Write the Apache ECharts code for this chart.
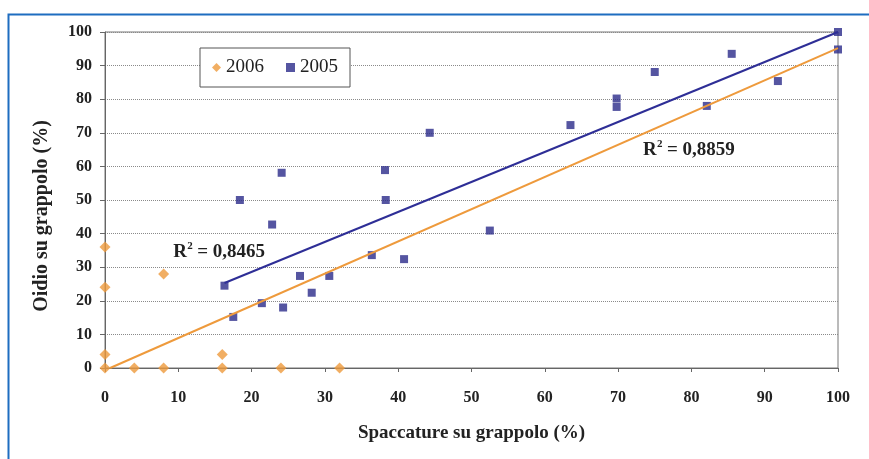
<!DOCTYPE html>
<html>
<head>
<meta charset="utf-8">
<script src="https://cdn.jsdelivr.net/npm/echarts@6/dist/echarts.min.js"></script>
<style>html,body{margin:0;padding:0;background:#fff;}#c{width:869px;height:459px;}</style>
</head>
<body>
<div id="c"></div>
<script>
// 2006 series (orange diamonds)
const x2006 = [0, 0, 0, 0, 4, 8, 8, 16, 16, 24, 32];
const y2006 = [0, 4, 24, 36, 0, 0, 28, 0, 4, 0, 0];
// 2005 series (blue squares)
const x2005 = [16.3, 17.5, 18.4, 21.4, 22.8, 24.1, 24.3, 26.6, 28.2, 30.6, 36.4, 38.2, 38.3, 40.8, 44.3, 52.5, 63.5, 69.8, 69.8, 75.0, 82.1, 85.5, 91.8, 100, 100];
const y2005 = [24.5, 15.2, 50.0, 19.3, 42.7, 58.1, 18.0, 27.4, 22.4, 27.4, 33.6, 58.9, 50.0, 32.4, 70.0, 40.9, 72.3, 80.2, 77.7, 88.1, 78.0, 93.5, 85.4, 100, 94.8];
// linear trend lines (end points)
const trend2006X = [0.7, 100];
const trend2006Y = [0, 95.2];
const trend2005X = [16.3, 100];
const trend2005Y = [25.3, 100];
// R² annotations: text and anchor (data coords, left/middle)
const r2Values = ['0,8465', '0,8859'];
const r2AnchorX = [9.3, 73.4];
const r2AnchorY = [34.5, 64.9];
// axis ticks
const xTicks = [0, 10, 20, 30, 40, 50, 60, 70, 80, 90, 100];
const yTicks = [0, 10, 20, 30, 40, 50, 60, 70, 80, 90, 100];

const zip = (a, b) => a.map((v, i) => [v, b[i]]);
const SERIF = "'Liberation Serif','Times New Roman',serif";
const ORANGE = '#EE9A3C';
const BLUE = '#2B2A8A';

const chart = echarts.init(document.getElementById('c'), null, {renderer: 'canvas'});
chart.setOption({
  animation: false,
  backgroundColor: '#fff',
  grid: {left: 105, right: 31, top: 32, bottom: 91, show: true, borderColor: '#777', borderWidth: 1, backgroundColor: 'transparent'},
  legend: {
    left: 200, top: 48,
    padding: [10, 12],
    borderColor: '#555', borderWidth: 1, backgroundColor: '#fff',
    itemWidth: 9, itemHeight: 9, itemGap: 22,
    data: [{name: '2006', icon: 'diamond'}, {name: '2005', icon: 'rect'}],
    textStyle: {fontFamily: SERIF, fontSize: 19, color: '#222'}
  },
  xAxis: {
    type: 'value', min: xTicks[0], max: xTicks[xTicks.length - 1], interval: 10,
    name: 'Spaccature su grappolo (%)', nameLocation: 'middle', nameGap: 56,
    nameTextStyle: {fontFamily: SERIF, fontWeight: 'bold', fontSize: 19, color: '#222'},
    axisLine: {show: true, lineStyle: {color: '#666', width: 1}},
    axisTick: {show: true, length: 4, lineStyle: {color: '#666'}},
    axisLabel: {fontFamily: SERIF, fontWeight: 'bold', fontSize: 16, color: '#222', margin: 22},
    splitLine: {show: false}
  },
  yAxis: {
    type: 'value', min: yTicks[0], max: yTicks[yTicks.length - 1], interval: 10,
    axisLine: {show: true, lineStyle: {color: '#666', width: 1}},
    axisTick: {show: true, length: 5, lineStyle: {color: '#666'}},
    axisLabel: {fontFamily: SERIF, fontWeight: 'bold', fontSize: 16, color: '#222', margin: 13},
    splitLine: {show: true, lineStyle: {type: 'dotted', color: '#8a8a8a', width: 1}}
  },
  series: [
    {name: '2006', type: 'scatter', symbol: 'diamond', symbolSize: 11, itemStyle: {color: ORANGE}, data: zip(x2006, y2006), z: 2},
    {name: '2005', type: 'scatter', symbol: 'rect', symbolSize: 8, itemStyle: {color: BLUE}, data: zip(x2005, y2005), z: 3},
    {name: 'trend2006', type: 'line', showSymbol: false, symbol: 'none', lineStyle: {color: ORANGE, width: 2}, data: zip(trend2006X, trend2006Y), z: 4, silent: true},
    {name: 'trend2005', type: 'line', showSymbol: false, symbol: 'none', lineStyle: {color: '#2E2E96', width: 2}, data: zip(trend2005X, trend2005Y), z: 4, silent: true}
  ]
});

const graphics = [
  {type: 'rect', left: 6, top: 12, shape: {width: 900, height: 500}, style: {fill: 'none', stroke: '#1E6DC0', lineWidth: 2}, z: 0, silent: true},
  {type: 'text', x: 42, y: 216, rotation: Math.PI / 2, style: {text: 'Oidio su grappolo (%)', font: 'bold 20px ' + SERIF, fill: '#222', textAlign: 'center', textVerticalAlign: 'middle'}}
];
r2Values.forEach((v, i) => {
  const p = chart.convertToPixel({gridIndex: 0}, [r2AnchorX[i], r2AnchorY[i]]);
  graphics.push({
    type: 'group', x: p[0], y: p[1], z: 10,
    children: [
      {type: 'text', x: 0, y: 0, style: {text: 'R', font: 'bold 19px ' + SERIF, fill: '#222', textAlign: 'left', textVerticalAlign: 'middle'}},
      {type: 'text', x: 14, y: -6, style: {text: '2', font: 'bold 11px ' + SERIF, fill: '#222', textAlign: 'left', textVerticalAlign: 'middle'}},
      {type: 'text', x: 24, y: 0, style: {text: '= ' + v, font: 'bold 19px ' + SERIF, fill: '#222', textAlign: 'left', textVerticalAlign: 'middle'}}
    ]
  });
});
chart.setOption({graphic: graphics});
</script>
</body>
</html>
